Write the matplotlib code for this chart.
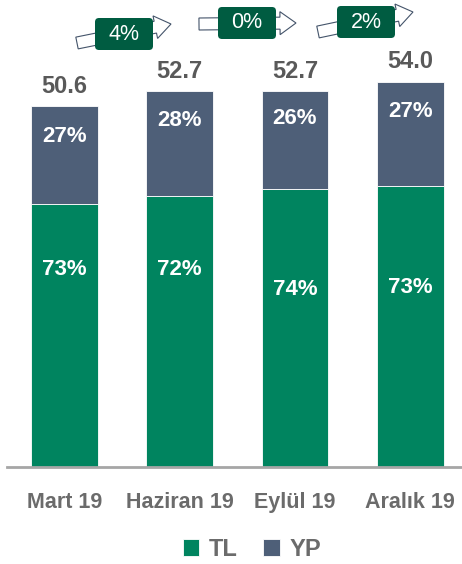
import matplotlib
matplotlib.use("Agg")
import matplotlib.pyplot as plt
from matplotlib.patches import FancyArrow, FancyBboxPatch
import numpy as np

# Kredi stoku, para birimine göre dağılım
donemler = ['Mart 19', 'Haziran 19', 'Eylül 19', 'Aralık 19']
toplam = [50.6, 52.7, 52.7, 54.0]
tl_pay = [73, 72, 74, 73]
yp_pay = [27, 28, 26, 27]

# etiketlerin dilim içindeki yeri (üstten oran)
tl_etiket_yer = [0.25, 0.27, 0.36, 0.36]
yp_etiket_yer = [0.31, 0.28, 0.28, 0.28]

yesil = '#00845F'
lacivert = '#4E5F78'
koyu_yesil = '#005C41'
gri_yazi = '#6B6B6B'
fontlar = ['Liberation Sans', 'DejaVu Sans']

plt.rcParams['font.family'] = fontlar

fig = plt.figure(figsize=(4.62, 5.64), dpi=100)
ax = fig.add_axes([7 / 462, 97 / 564, 455 / 462, 467 / 564])

x = np.arange(len(donemler))
toplam = np.array(toplam)
tl = toplam * np.array(tl_pay) / 100
yp = toplam * np.array(yp_pay) / 100
genislik = 0.58

ax.bar(x, tl, genislik, color=yesil, edgecolor='white', linewidth=0.6, label='TL')
ax.bar(x, yp, genislik, bottom=tl, color=lacivert, edgecolor='white', linewidth=0.6, label='YP')

for i in range(len(x)):
    ax.text(x[i], toplam[i] + 1.2, f'{toplam[i]:.1f}', ha='center', va='bottom',
            fontsize=17, fontweight='bold', color='#595959')
    ax.text(x[i], toplam[i] - yp[i] * yp_etiket_yer[i], f'{yp_pay[i]}%', ha='center', va='center',
            fontsize=16, fontweight='bold', color='white')
    ax.text(x[i], tl[i] - tl[i] * tl_etiket_yer[i], f'{tl_pay[i]}%', ha='center', va='center',
            fontsize=16, fontweight='bold', color='white')

ax.set_xlim(-0.5, 3.45)
ax.set_ylim(0, 65.5)
ax.set_yticks([])
ax.set_xticks(x)
ax.set_xticklabels(donemler, fontsize=15.5, fontweight='bold', color=gri_yazi)
ax.tick_params(axis='x', length=0, pad=18)
for s in ['top', 'left', 'right']:
    ax.spines[s].set_visible(False)
ax.spines['bottom'].set_color('#A6A6A6')
ax.spines['bottom'].set_linewidth(2)
ax.patch.set_alpha(0)

# değişim okları, piksel koordinatlı üst katman
ust = fig.add_axes([0, 0, 1, 1])
ust.set_xlim(0, 462)
ust.set_ylim(564, 0)
ust.axis('off')
ust.patch.set_alpha(0)

oklar = [((77, 43), (171, 24)), ((199, 24), (296, 23)), ((318, 32), (413, 12))]
kutular = [(95, 18), (218, 7), (337, 6)]
for i, ((x0, y0), (x1, y1)) in enumerate(oklar):
    ust.add_patch(FancyArrow(x0, y0, x1 - x0, y1 - y0, width=12, head_width=23,
                             head_length=16, length_includes_head=True,
                             facecolor='white', edgecolor='#44546A', linewidth=0.8))
    kx, ky = kutular[i]
    ust.add_patch(FancyBboxPatch((kx, ky), 58, 32, boxstyle='round,pad=0,rounding_size=4',
                                 facecolor=koyu_yesil, edgecolor='none'))
    degisim = (toplam[i + 1] - toplam[i]) / toplam[i] * 100
    ust.text(kx + 29, ky + 16, f'{degisim:.0f}%', ha='center', va='center',
             fontsize=15.5, color='white')

leg = fig.legend(loc='center', bbox_to_anchor=(0.545, 0.026), ncol=2, frameon=False,
                 handlelength=0.7, handleheight=0.7, handletextpad=0.4, columnspacing=1.1,
                 prop={'size': 17, 'weight': 'bold'})
for t in leg.get_texts():
    t.set_color(gri_yazi)

fig.savefig('out.png', dpi=100)
